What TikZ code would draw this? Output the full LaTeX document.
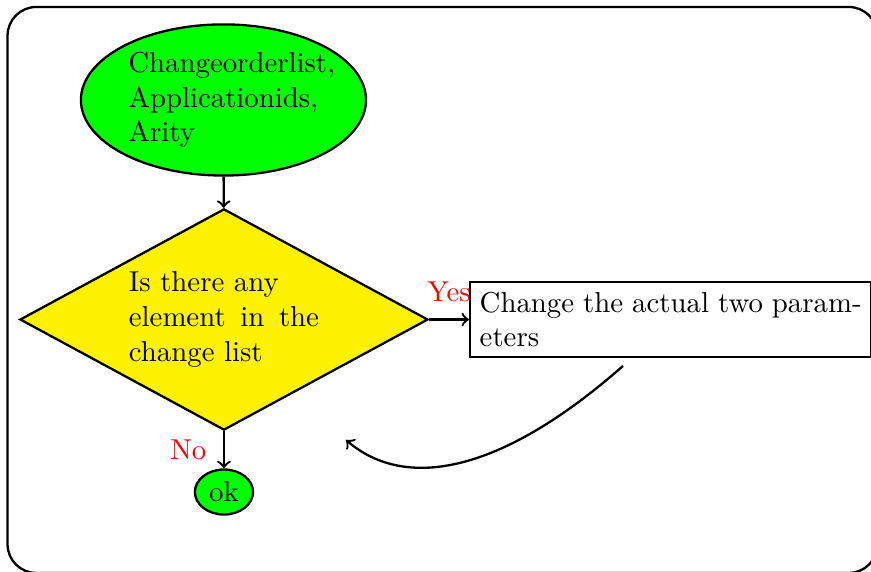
\documentclass[tikz,border=0pt]{standalone}
\usepackage{amsmath,amssymb}
\usepackage{tikz}
\usetikzlibrary{shapes.geometric}

\hyphenation{param-eters}
\definecolor{dyellow}{rgb}{1,0.949,0}

\tikzset{
  startstop/.style={ellipse, draw, thick, fill=green, inner sep=2pt},
  decision/.style={diamond, draw, thick, fill=dyellow, text width=66pt, align=justify,
    inner sep=1pt, aspect=1.85, minimum width=4.98cm, minimum height=2.70cm},
  process/.style={rectangle, draw, thick, text width=132.6pt, align=justify},
  lbl/.style={text=red, inner sep=5.7pt}
}

\begin{document}
\begin{tikzpicture}
      \useasboundingbox (0,0) rectangle (10.629,6.980);
      \draw [thick, rounded corners=10pt] (0.092,-0.012) rectangle (10.708,6.895);
      \node [startstop, text width=66pt, align=justify] (start) at (2.727,5.760) {Changeorderlist, Applicationids, Arity};
      \node [decision] (dec) at (2.733,3.081) {Is there any\\ element in the change list};
      \node [process, anchor=west] (chg) at (5.723,3.081) {Change the actual two parameters};
      \node [startstop] (ok) at (2.733,0.976) {ok};
      \coordinate (backA) at (7.602,2.514);
      \coordinate (backB) at (4.222,1.611);
      \draw [->, thick] (start) -- (dec);
      \draw [->, thick] (dec) -- (chg) node [midway, above, lbl] {Yes};
      \draw [->, thick] (dec) -- (ok) node [midway, left, lbl] {No};
      \draw [->, thick] (backA) .. controls +(-1.464,-1.289) and +(0.742,-0.635) .. (backB);
\end{tikzpicture}
\end{document}
